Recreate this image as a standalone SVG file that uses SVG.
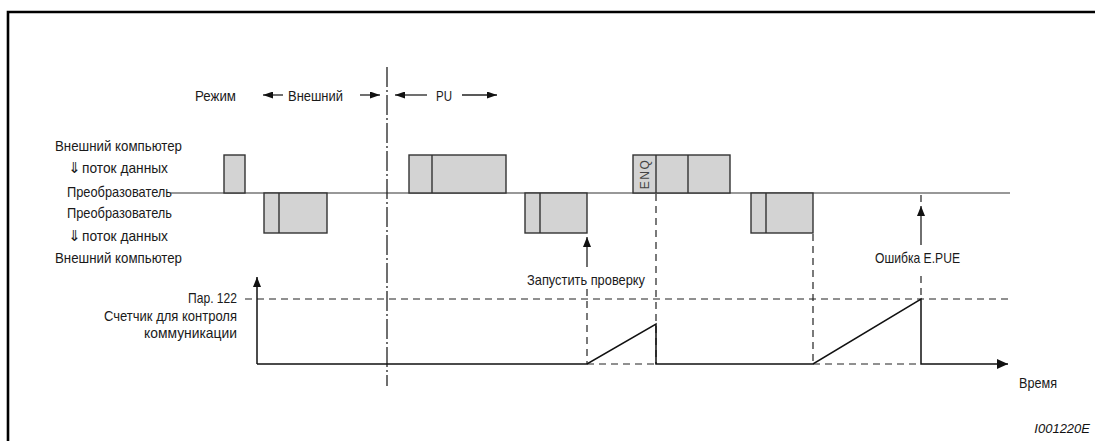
<svg xmlns="http://www.w3.org/2000/svg" width="1095" height="441" viewBox="0 0 1095 441">
<defs>
<style>
.t{font-family:"Liberation Sans",Arial,sans-serif;font-size:15px;fill:#1a1a1a}
.sym{font-family:"DejaVu Sans",sans-serif;fill:#1a1a1a}
.blk{fill:#d3d3d3;stroke:#333;stroke-width:1.4}
.dv{stroke:#333;stroke-width:1.4}
.base{stroke:#333;stroke-width:1.2;fill:none}
.sig{stroke:#111;stroke-width:1.5;fill:none}
.dash{stroke:#222;stroke-width:1.2;stroke-dasharray:7 5;fill:none}
.dd{stroke:#222;stroke-width:1.3;stroke-dasharray:20 3 2 3;fill:none}
.ar{stroke:#222;stroke-width:1.3;fill:none}
</style>
<marker id="ah" viewBox="0 0 10 8" refX="10" refY="4" markerWidth="10" markerHeight="8" markerUnits="userSpaceOnUse" orient="auto"><path d="M0,0 L10,4 L0,8 Z" fill="#111"/></marker>
<marker id="ahs" viewBox="0 0 10 7" refX="10" refY="3.5" markerWidth="10" markerHeight="7" markerUnits="userSpaceOnUse" orient="auto"><path d="M0,0 L10,3.5 L0,7 Z" fill="#111"/></marker>
<marker id="ahb" viewBox="0 0 11 10" refX="11" refY="5" markerWidth="11" markerHeight="10" markerUnits="userSpaceOnUse" orient="auto"><path d="M0,0 L11,5 L0,10 Z" fill="#111"/></marker>
</defs>
<rect width="1095" height="441" fill="#fff"/>
<path d="M8,441 V12 H1095" fill="none" stroke="#000" stroke-width="2.6"/>

<g id="labels-left">
<g id="lbl-pc-in"><text class="t" x="55" y="151" textLength="127" lengthAdjust="spacingAndGlyphs">Внешний компьютер</text>
<text class="t" x="68" y="173"><tspan class="sym">⇓</tspan><tspan x="82" textLength="86" lengthAdjust="spacingAndGlyphs">поток данных</tspan></text>
<text class="t" x="67" y="197" textLength="105" lengthAdjust="spacingAndGlyphs">Преобразователь</text></g>
<g id="lbl-inv-out"><text class="t" x="67" y="218" textLength="105" lengthAdjust="spacingAndGlyphs">Преобразователь</text>
<text class="t" x="68" y="241"><tspan class="sym">⇓</tspan><tspan x="82" textLength="86" lengthAdjust="spacingAndGlyphs">поток данных</tspan></text>
<text class="t" x="55" y="263" textLength="127" lengthAdjust="spacingAndGlyphs">Внешний компьютер</text></g>
<g id="lbl-counter"><text class="t" x="188" y="303" textLength="49" lengthAdjust="spacingAndGlyphs">Пар. 122</text>
<text class="t" x="104" y="321" textLength="133" lengthAdjust="spacingAndGlyphs">Счетчик для контроля</text>
<text class="t" x="144" y="338" textLength="93" lengthAdjust="spacingAndGlyphs">коммуникации</text></g>
</g>

<g id="mode">
<text class="t" x="195" y="101" textLength="41" lengthAdjust="spacingAndGlyphs">Режим</text>
<text class="t" x="288" y="101" textLength="55" lengthAdjust="spacingAndGlyphs">Внешний</text>
<text class="t" x="436" y="101" textLength="16" lengthAdjust="spacingAndGlyphs">PU</text>
</g>

<g id="connectors">
<line class="base" x1="170" y1="193" x2="1010" y2="193"/>
<line class="dd" x1="387" y1="67" x2="387" y2="386"/>
<line class="ar" x1="283" y1="95" x2="263" y2="95" marker-end="url(#ahs)"/>
<line class="ar" x1="360" y1="95" x2="380" y2="95" marker-end="url(#ahs)"/>
<line class="ar" x1="427" y1="95" x2="395" y2="95" marker-end="url(#ahs)"/>
<line class="ar" x1="462" y1="95" x2="497" y2="95" marker-end="url(#ahs)"/>
<line class="dash" x1="245" y1="299" x2="1011" y2="299"/>
<line class="dash" x1="656" y1="194" x2="656" y2="364"/>
<line class="dash" x1="813" y1="234" x2="813" y2="364"/>
<line class="dash" x1="587" y1="289" x2="587" y2="364"/>
<line class="dash" x1="921" y1="195" x2="921" y2="207"/>
<line class="dash" x1="921" y1="276" x2="921" y2="299"/>
<line class="dash" x1="587" y1="364" x2="656" y2="364"/>
<line class="dash" x1="813" y1="364" x2="921" y2="364"/>
<line class="ar" x1="587" y1="267" x2="587" y2="237" marker-end="url(#ah)"/>
<line class="ar" x1="921" y1="245" x2="921" y2="206" marker-end="url(#ah)"/>
<line class="sig" x1="257" y1="364" x2="257" y2="277" marker-end="url(#ah)"/>
<path class="sig" d="M257,364 H587 L656,324 V364 H813 L921,299 V364 H1008" marker-end="url(#ahb)"/>
</g>

<g id="blk1"><rect class="blk" x="224" y="155" width="21" height="38"/></g>
<g id="blk2"><rect class="blk" x="264" y="193" width="63" height="40"/><line class="dv" x1="279" y1="193" x2="279" y2="233"/></g>
<g id="blk3"><rect class="blk" x="409" y="155" width="97" height="38"/><line class="dv" x1="432" y1="155" x2="432" y2="193"/></g>
<g id="blk4"><rect class="blk" x="525" y="193" width="62" height="40"/><line class="dv" x1="540" y1="193" x2="540" y2="233"/></g>
<g id="blk5"><rect class="blk" x="633" y="155" width="97" height="38"/><line class="dv" x1="656" y1="155" x2="656" y2="193"/><line class="dv" x1="688" y1="155" x2="688" y2="193"/>
<text x="648.5" y="174" transform="rotate(-90 648.5 174)" text-anchor="middle" font-family="'Liberation Sans',Arial,sans-serif" font-size="12" fill="#444" letter-spacing="1.5">ENQ</text></g>
<g id="blk6"><rect class="blk" x="751" y="193" width="62" height="40"/><line class="dv" x1="766" y1="193" x2="766" y2="233"/></g>

<g id="notes">
<text class="t" x="527" y="285" textLength="118" lengthAdjust="spacingAndGlyphs">Запустить проверку</text>
<text class="t" x="875" y="263" textLength="85" lengthAdjust="spacingAndGlyphs">Ошибка E.PUE</text>
<text class="t" x="1019" y="388" textLength="38" lengthAdjust="spacingAndGlyphs">Время</text>
<text x="1090" y="433" text-anchor="end" font-family="'Liberation Sans',Arial,sans-serif" font-style="italic" font-size="13" fill="#111">I001220E</text>
</g>
</svg>
